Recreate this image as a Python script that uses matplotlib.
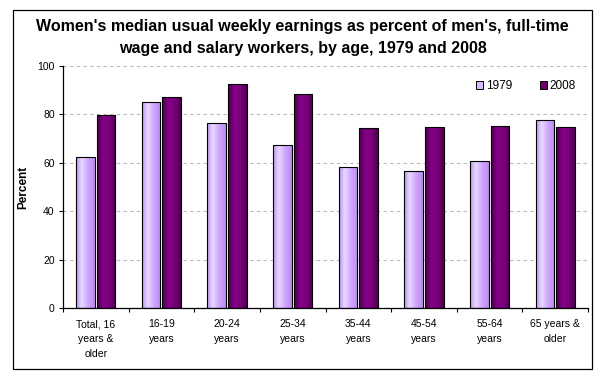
import numpy as np
import matplotlib
matplotlib.use("Agg")
import matplotlib.pyplot as plt
from matplotlib.colors import to_rgb
from matplotlib.patches import Rectangle, Patch

plt.rcParams['font.family'] = ['Liberation Sans', 'DejaVu Sans']

# data
categories = ["Total, 16\nyears &\nolder", "16-19\nyears", "20-24\nyears", "25-34\nyears",
              "35-44\nyears", "45-54\nyears", "55-64\nyears", "65 years &\nolder"]
pct_1979 = [62.3, 85.0, 76.3, 67.3, 58.2, 56.5, 60.7, 77.6]
pct_2008 = [79.9, 87.1, 92.4, 88.3, 74.3, 74.7, 75.1, 74.7]
series_names = ["1979", "2008"]
yticks = [0, 20, 40, 60, 80, 100]

# gradient stops (left -> right) for the Excel-like shaded bars
grad_1979 = [(0.0, "#bb92f0"), (0.3, "#e8d8ff"), (0.65, "#cfa4ff"), (1.0, "#bb8cf0")]
grad_2008 = [(0.0, "#4a004a"), (0.35, "#85008a"), (0.65, "#7a007a"), (1.0, "#4f004f")]


def make_gradient(stops, n=64):
    pos = np.array([s[0] for s in stops])
    cols = np.array([to_rgb(s[1]) for s in stops])
    t = np.linspace(0, 1, n)
    rgb = np.stack([np.interp(t, pos, cols[:, k]) for k in range(3)], axis=-1)
    return rgb[np.newaxis, :, :]


fig = plt.figure(figsize=(6.09, 3.9), dpi=100)
ax = fig.add_axes([63 / 609, 1 - 308 / 390, 525 / 609, 242 / 390])

# outer chart border
fig.patches.append(Rectangle((12.5 / 609, 1 - 369 / 390), 579 / 609, 359 / 390,
                             transform=fig.transFigure, fill=False,
                             edgecolor="black", linewidth=0.9, zorder=0))

x = np.arange(len(categories))
w = 0.285
off = 0.157

bars_a = ax.bar(x - off, pct_1979, w, facecolor="none", edgecolor="black", linewidth=0.8, zorder=3)
bars_b = ax.bar(x + off, pct_2008, w, facecolor="none", edgecolor="black", linewidth=0.8, zorder=3)

for bars, stops in [(bars_a, grad_1979), (bars_b, grad_2008)]:
    img = make_gradient(stops)
    for b in bars:
        x0, y0 = b.get_x(), b.get_y()
        im = ax.imshow(img, extent=[x0, x0 + b.get_width(), y0, y0 + b.get_height()],
                       aspect="auto", interpolation="bilinear", zorder=2)
        im.set_clip_path(b)

ax.set_xlim(-0.5, len(categories) - 0.5)
ax.set_ylim(0, 100)

ax.set_yticks(yticks)
ax.tick_params(axis="y", direction="out", length=3, width=0.8, labelsize=7.5, pad=3)
ax.set_xticks(x)
ax.set_xticklabels(categories, fontsize=7.5, linespacing=1.6)
ax.set_xticks(np.arange(-0.5, len(categories)), minor=True)
ax.tick_params(axis="x", which="major", length=0, pad=8)
ax.tick_params(axis="x", which="minor", direction="out", length=3, width=0.8)

ax.yaxis.grid(True, color="#b8b8b8", linestyle=(0, (3, 3)), linewidth=0.8)
ax.set_axisbelow(True)
for s in ["top", "right"]:
    ax.spines[s].set_visible(False)
for s in ["left", "bottom"]:
    ax.spines[s].set_linewidth(0.9)

ax.set_ylabel("Percent", fontsize=8.5, fontweight="bold", labelpad=6)

fig.text(302.5 / 609, 1 - 26 / 390,
         "Women's median usual weekly earnings as percent of men's, full-time",
         ha="center", va="center", fontsize=11.5, fontweight="bold")
fig.text(302.5 / 609, 1 - 48 / 390,
         "wage and salary workers, by age, 1979 and 2008",
         ha="center", va="center", fontsize=11.5, fontweight="bold")

handles = [Patch(facecolor="#d8b8ff", edgecolor="black", linewidth=0.7),
           Patch(facecolor="#6e006e", edgecolor="black", linewidth=0.7)]
ax.legend(handles, series_names, loc="center right",
          bbox_to_anchor=((576 - 63) / 525, (308 - 86) / 242),
          bbox_transform=ax.transAxes, ncol=2, frameon=False, fontsize=8.5,
          handlelength=0.6, handleheight=0.6, handletextpad=0.25, columnspacing=2.3,
          borderpad=0, borderaxespad=0)

fig.savefig("out.png", dpi=100)
